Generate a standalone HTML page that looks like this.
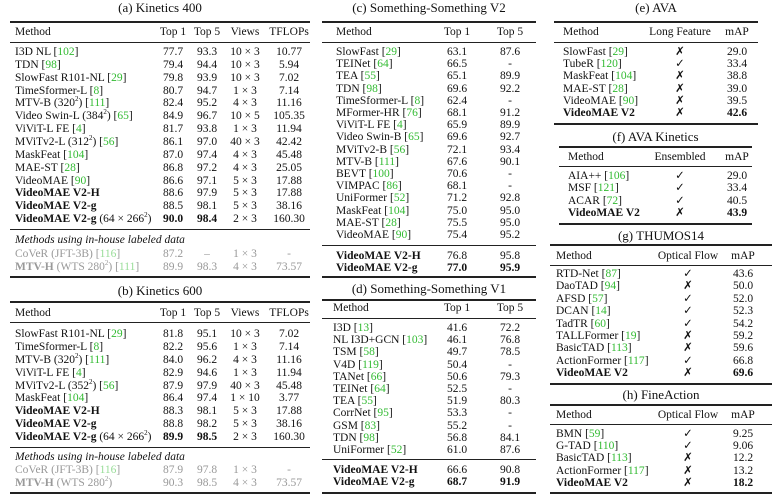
<!DOCTYPE html>
<html><head><meta charset="utf-8"><style>
body{margin:0;width:776px;height:496px;background:#fff;position:relative;overflow:hidden;font-family:"Liberation Serif",serif;font-size:11.5px;color:#111}
.r{position:absolute;height:14px;line-height:14px;white-space:nowrap}
.r span{position:absolute;top:0;text-align:center}
.r span.m{text-align:left}
.l{position:absolute;background:#222}
.t{font-size:13px;text-align:center}
g,.g{color:#3b3}
.gr{color:#999}
.gr g{color:#9d9}
b{font-weight:bold}
sup{font-size:7px;line-height:0}
.A{left:0;width:320px}
.A .m{left:15px}.A .c1{left:158px;width:30px}.A .c2{left:192px;width:30px}.A .c3{left:222px;width:46px}.A .c4{left:268px;width:42px}
.C{left:300px;width:240px}
.C .m{left:36px}.C .c1{left:140px;width:34px}.C .c2{left:193px;width:34px}
.E{left:540px;width:236px}
.E .m{left:23px}.E .c1{left:110px;width:60px}.E .c2{left:180px;width:34px}
.F .m{left:28px}
.G .m{left:16px}.G .c1{left:108px;width:80px}.G .c2{left:186px;width:34px}
.x{display:inline-block}
</style></head><body>
<!-- (a) -->
<div class="r t" style="left:10px;width:300px;top:1px">(a) Kinetics 400</div>
<div class="l" style="left:10px;width:300px;top:21px;height:1.5px"></div>
<div class="r A" style="top:25px"><span class="m">Method</span><span class="c1">Top 1</span><span class="c2">Top 5</span><span class="c3">Views</span><span class="c4">TFLOPs</span></div>
<div class="l" style="left:10px;width:300px;top:42px;height:1px"></div>
<div class="r A" style="top:45px"><span class="m">I3D NL [<g>102</g>]</span><span class="c1">77.7</span><span class="c2">93.3</span><span class="c3">10 × 3</span><span class="c4">10.77</span></div>
<div class="r A" style="top:58px"><span class="m">TDN [<g>98</g>]</span><span class="c1">79.4</span><span class="c2">94.4</span><span class="c3">10 × 3</span><span class="c4">5.94</span></div>
<div class="r A" style="top:71px"><span class="m">SlowFast R101-NL [<g>29</g>]</span><span class="c1">79.8</span><span class="c2">93.9</span><span class="c3">10 × 3</span><span class="c4">7.02</span></div>
<div class="r A" style="top:84px"><span class="m">TimeSformer-L [<g>8</g>]</span><span class="c1">80.7</span><span class="c2">94.7</span><span class="c3">1 × 3</span><span class="c4">7.14</span></div>
<div class="r A" style="top:96px"><span class="m">MTV-B (320<sup>2</sup>) [<g>111</g>]</span><span class="c1">82.4</span><span class="c2">95.2</span><span class="c3">4 × 3</span><span class="c4">11.16</span></div>
<div class="r A" style="top:109px"><span class="m">Video Swin-L (384<sup>2</sup>) [<g>65</g>]</span><span class="c1">84.9</span><span class="c2">96.7</span><span class="c3">10 × 5</span><span class="c4">105.35</span></div>
<div class="r A" style="top:122px"><span class="m">ViViT-L FE [<g>4</g>]</span><span class="c1">81.7</span><span class="c2">93.8</span><span class="c3">1 × 3</span><span class="c4">11.94</span></div>
<div class="r A" style="top:135px"><span class="m">MViTv2-L (312<sup>2</sup>) [<g>56</g>]</span><span class="c1">86.1</span><span class="c2">97.0</span><span class="c3">40 × 3</span><span class="c4">42.42</span></div>
<div class="r A" style="top:148px"><span class="m">MaskFeat [<g>104</g>]</span><span class="c1">87.0</span><span class="c2">97.4</span><span class="c3">4 × 3</span><span class="c4">45.48</span></div>
<div class="r A" style="top:161px"><span class="m">MAE-ST [<g>28</g>]</span><span class="c1">86.8</span><span class="c2">97.2</span><span class="c3">4 × 3</span><span class="c4">25.05</span></div>
<div class="r A" style="top:174px"><span class="m">VideoMAE [<g>90</g>]</span><span class="c1">86.6</span><span class="c2">97.1</span><span class="c3">5 × 3</span><span class="c4">17.88</span></div>
<div class="r A" style="top:186px"><span class="m"><b>VideoMAE V2-H</b></span><span class="c1">88.6</span><span class="c2">97.9</span><span class="c3">5 × 3</span><span class="c4">17.88</span></div>
<div class="r A" style="top:199px"><span class="m"><b>VideoMAE V2-g</b></span><span class="c1">88.5</span><span class="c2">98.1</span><span class="c3">5 × 3</span><span class="c4">38.16</span></div>
<div class="r A" style="top:212px"><span class="m"><b>VideoMAE V2-g</b> (64 × 266<sup>2</sup>)</span><span class="c1"><b>90.0</b></span><span class="c2"><b>98.4</b></span><span class="c3">2 × 3</span><span class="c4">160.30</span></div>
<div class="l" style="left:10px;width:300px;top:229px;height:1px"></div>
<div class="r A" style="top:233px"><span class="m"><i>Methods using in-house labeled data</i></span></div>
<div class="r A gr" style="top:247px"><span class="m">CoVeR (JFT-3B) [<g>116</g>]</span><span class="c1">87.2</span><span class="c2">–</span><span class="c3">1 × 3</span><span class="c4">-</span></div>
<div class="r A gr" style="top:260px"><span class="m"><b>MTV-H</b> (WTS 280<sup>2</sup>) [<g>111</g>]</span><span class="c1">89.9</span><span class="c2">98.3</span><span class="c3">4 × 3</span><span class="c4">73.57</span></div>
<div class="l" style="left:10px;width:300px;top:276px;height:1.5px"></div>
<!-- (b) -->
<div class="r t" style="left:10px;width:300px;top:284px">(b) Kinetics 600</div>
<div class="l" style="left:10px;width:300px;top:301px;height:1.5px"></div>
<div class="r A" style="top:306px"><span class="m">Method</span><span class="c1">Top 1</span><span class="c2">Top 5</span><span class="c3">Views</span><span class="c4">TFLOPs</span></div>
<div class="l" style="left:10px;width:300px;top:322px;height:1px"></div>
<div class="r A" style="top:327px"><span class="m">SlowFast R101-NL [<g>29</g>]</span><span class="c1">81.8</span><span class="c2">95.1</span><span class="c3">10 × 3</span><span class="c4">7.02</span></div>
<div class="r A" style="top:340px"><span class="m">TimeSformer-L [<g>8</g>]</span><span class="c1">82.2</span><span class="c2">95.6</span><span class="c3">1 × 3</span><span class="c4">7.14</span></div>
<div class="r A" style="top:353px"><span class="m">MTV-B (320<sup>2</sup>) [<g>111</g>]</span><span class="c1">84.0</span><span class="c2">96.2</span><span class="c3">4 × 3</span><span class="c4">11.16</span></div>
<div class="r A" style="top:366px"><span class="m">ViViT-L FE [<g>4</g>]</span><span class="c1">82.9</span><span class="c2">94.6</span><span class="c3">1 × 3</span><span class="c4">11.94</span></div>
<div class="r A" style="top:379px"><span class="m">MViTv2-L (352<sup>2</sup>) [<g>56</g>]</span><span class="c1">87.9</span><span class="c2">97.9</span><span class="c3">40 × 3</span><span class="c4">45.48</span></div>
<div class="r A" style="top:391px"><span class="m">MaskFeat [<g>104</g>]</span><span class="c1">86.4</span><span class="c2">97.4</span><span class="c3">1 × 10</span><span class="c4">3.77</span></div>
<div class="r A" style="top:404px"><span class="m"><b>VideoMAE V2-H</b></span><span class="c1">88.3</span><span class="c2">98.1</span><span class="c3">5 × 3</span><span class="c4">17.88</span></div>
<div class="r A" style="top:417px"><span class="m"><b>VideoMAE V2-g</b></span><span class="c1">88.8</span><span class="c2">98.2</span><span class="c3">5 × 3</span><span class="c4">38.16</span></div>
<div class="r A" style="top:430px"><span class="m"><b>VideoMAE V2-g</b> (64 × 266<sup>2</sup>)</span><span class="c1"><b>89.9</b></span><span class="c2"><b>98.5</b></span><span class="c3">2 × 3</span><span class="c4">160.30</span></div>
<div class="l" style="left:10px;width:300px;top:447px;height:1px"></div>
<div class="r A" style="top:450px"><span class="m"><i>Methods using in-house labeled data</i></span></div>
<div class="r A gr" style="top:463px"><span class="m">CoVeR (JFT-3B) [<g>116</g>]</span><span class="c1">87.9</span><span class="c2">97.8</span><span class="c3">1 × 3</span><span class="c4">-</span></div>
<div class="r A gr" style="top:476px"><span class="m"><b>MTV-H</b> (WTS 280<sup>2</sup>)</span><span class="c1">90.3</span><span class="c2">98.5</span><span class="c3">4 × 3</span><span class="c4">73.57</span></div>
<div class="l" style="left:10px;width:300px;top:492px;height:1.5px"></div>
<!-- (c) -->
<div class="r t" style="left:322px;width:214px;top:1px">(c) Something-Something V2</div>
<div class="l" style="left:322px;width:214px;top:21px;height:1.5px"></div>
<div class="r C" style="top:25px"><span class="m">Method</span><span class="c1">Top 1</span><span class="c2">Top 5</span></div>
<div class="l" style="left:322px;width:214px;top:42px;height:1px"></div>
<div class="r C" style="top:45px"><span class="m">SlowFast [<g>29</g>]</span><span class="c1">63.1</span><span class="c2">87.6</span></div>
<div class="r C" style="top:57px"><span class="m">TEINet [<g>64</g>]</span><span class="c1">66.5</span><span class="c2">-</span></div>
<div class="r C" style="top:69px"><span class="m">TEA [<g>55</g>]</span><span class="c1">65.1</span><span class="c2">89.9</span></div>
<div class="r C" style="top:82px"><span class="m">TDN [<g>98</g>]</span><span class="c1">69.6</span><span class="c2">92.2</span></div>
<div class="r C" style="top:94px"><span class="m">TimeSformer-L [<g>8</g>]</span><span class="c1">62.4</span><span class="c2">-</span></div>
<div class="r C" style="top:106px"><span class="m">MFormer-HR [<g>76</g>]</span><span class="c1">68.1</span><span class="c2">91.2</span></div>
<div class="r C" style="top:118px"><span class="m">ViViT-L FE [<g>4</g>]</span><span class="c1">65.9</span><span class="c2">89.9</span></div>
<div class="r C" style="top:130px"><span class="m">Video Swin-B [<g>65</g>]</span><span class="c1">69.6</span><span class="c2">92.7</span></div>
<div class="r C" style="top:143px"><span class="m">MViTv2-B [<g>56</g>]</span><span class="c1">72.1</span><span class="c2">93.4</span></div>
<div class="r C" style="top:155px"><span class="m">MTV-B [<g>111</g>]</span><span class="c1">67.6</span><span class="c2">90.1</span></div>
<div class="r C" style="top:167px"><span class="m">BEVT [<g>100</g>]</span><span class="c1">70.6</span><span class="c2">-</span></div>
<div class="r C" style="top:179px"><span class="m">VIMPAC [<g>86</g>]</span><span class="c1">68.1</span><span class="c2">-</span></div>
<div class="r C" style="top:191px"><span class="m">UniFormer [<g>52</g>]</span><span class="c1">71.2</span><span class="c2">92.8</span></div>
<div class="r C" style="top:204px"><span class="m">MaskFeat [<g>104</g>]</span><span class="c1">75.0</span><span class="c2">95.0</span></div>
<div class="r C" style="top:216px"><span class="m">MAE-ST [<g>28</g>]</span><span class="c1">75.5</span><span class="c2">95.0</span></div>
<div class="r C" style="top:228px"><span class="m">VideoMAE [<g>90</g>]</span><span class="c1">75.4</span><span class="c2">95.2</span></div>
<div class="l" style="left:322px;width:214px;top:245px;height:1px"></div>
<div class="r C" style="top:249px"><span class="m"><b>VideoMAE V2-H</b></span><span class="c1">76.8</span><span class="c2">95.8</span></div>
<div class="r C" style="top:261px"><span class="m"><b>VideoMAE V2-g</b></span><span class="c1"><b>77.0</b></span><span class="c2"><b>95.9</b></span></div>
<div class="l" style="left:322px;width:214px;top:276px;height:1.5px"></div>
<!-- (d) -->
<div class="r t" style="left:322px;width:214px;top:282px">(d) Something-Something V1</div>
<div class="l" style="left:322px;width:214px;top:299px;height:1.5px"></div>
<div class="r C" style="top:301px"><span class="m" style="left:33px">Method</span><span class="c1">Top 1</span><span class="c2">Top 5</span></div>
<div class="l" style="left:322px;width:214px;top:318px;height:1px"></div>
<div class="r C" style="top:321px"><span class="m" style="left:33px">I3D [<g>13</g>]</span><span class="c1">41.6</span><span class="c2">72.2</span></div>
<div class="r C" style="top:333px"><span class="m" style="left:33px">NL I3D+GCN [<g>103</g>]</span><span class="c1">46.1</span><span class="c2">76.8</span></div>
<div class="r C" style="top:345px"><span class="m" style="left:33px">TSM [<g>58</g>]</span><span class="c1">49.7</span><span class="c2">78.5</span></div>
<div class="r C" style="top:358px"><span class="m" style="left:33px">V4D [<g>119</g>]</span><span class="c1">50.4</span><span class="c2">-</span></div>
<div class="r C" style="top:370px"><span class="m" style="left:33px">TANet [<g>66</g>]</span><span class="c1">50.6</span><span class="c2">79.3</span></div>
<div class="r C" style="top:382px"><span class="m" style="left:33px">TEINet [<g>64</g>]</span><span class="c1">52.5</span><span class="c2">-</span></div>
<div class="r C" style="top:394px"><span class="m" style="left:33px">TEA [<g>55</g>]</span><span class="c1">51.9</span><span class="c2">80.3</span></div>
<div class="r C" style="top:406px"><span class="m" style="left:33px">CorrNet [<g>95</g>]</span><span class="c1">53.3</span><span class="c2">-</span></div>
<div class="r C" style="top:419px"><span class="m" style="left:33px">GSM [<g>83</g>]</span><span class="c1">55.2</span><span class="c2">-</span></div>
<div class="r C" style="top:431px"><span class="m" style="left:33px">TDN [<g>98</g>]</span><span class="c1">56.8</span><span class="c2">84.1</span></div>
<div class="r C" style="top:443px"><span class="m" style="left:33px">UniFormer [<g>52</g>]</span><span class="c1">61.0</span><span class="c2">87.6</span></div>
<div class="l" style="left:322px;width:214px;top:459px;height:1px"></div>
<div class="r C" style="top:463px"><span class="m" style="left:33px"><b>VideoMAE V2-H</b></span><span class="c1">66.6</span><span class="c2">90.8</span></div>
<div class="r C" style="top:475px"><span class="m" style="left:33px"><b>VideoMAE V2-g</b></span><span class="c1"><b>68.7</b></span><span class="c2"><b>91.9</b></span></div>
<div class="l" style="left:322px;width:214px;top:492px;height:1.5px"></div>
<!-- (e) -->
<div class="r t" style="left:554px;width:204px;top:1px">(e) AVA</div>
<div class="l" style="left:554px;width:204px;top:21px;height:1.5px"></div>
<div class="r E" style="top:25px"><span class="m">Method</span><span class="c1" style="left:105px;width:70px">Long Feature</span><span class="c2">mAP</span></div>
<div class="l" style="left:554px;width:204px;top:42px;height:1px"></div>
<div class="r E" style="top:45px"><span class="m">SlowFast [<g>29</g>]</span><span class="c1">✗</span><span class="c2">29.0</span></div>
<div class="r E" style="top:57px"><span class="m">TubeR [<g>120</g>]</span><span class="c1">✓</span><span class="c2">33.4</span></div>
<div class="r E" style="top:69px"><span class="m">MaskFeat [<g>104</g>]</span><span class="c1">✗</span><span class="c2">38.8</span></div>
<div class="r E" style="top:82px"><span class="m">MAE-ST [<g>28</g>]</span><span class="c1">✗</span><span class="c2">39.0</span></div>
<div class="r E" style="top:94px"><span class="m">VideoMAE [<g>90</g>]</span><span class="c1">✗</span><span class="c2">39.5</span></div>
<div class="r E" style="top:106px"><span class="m"><b>VideoMAE V2</b></span><span class="c1">✗</span><span class="c2"><b>42.6</b></span></div>
<div class="l" style="left:554px;width:204px;top:123px;height:1.5px"></div>
<!-- (f) -->
<div class="r t" style="left:559px;width:193px;top:130px">(f) AVA Kinetics</div>
<div class="l" style="left:559px;width:193px;top:146px;height:1.5px"></div>
<div class="r E F" style="top:150px"><span class="m">Method</span><span class="c1">Ensembled</span><span class="c2">mAP</span></div>
<div class="l" style="left:559px;width:193px;top:166px;height:1px"></div>
<div class="r E F" style="top:169px"><span class="m">AIA++ [<g>106</g>]</span><span class="c1">✓</span><span class="c2">29.0</span></div>
<div class="r E F" style="top:181px"><span class="m">MSF [<g>121</g>]</span><span class="c1">✓</span><span class="c2">33.4</span></div>
<div class="r E F" style="top:194px"><span class="m">ACAR [<g>72</g>]</span><span class="c1">✓</span><span class="c2">40.5</span></div>
<div class="r E F" style="top:206px"><span class="m"><b>VideoMAE V2</b></span><span class="c1">✗</span><span class="c2"><b>43.9</b></span></div>
<div class="l" style="left:559px;width:193px;top:223px;height:1.5px"></div>
<!-- (g) -->
<div class="r t" style="left:550px;width:222px;top:229px">(g) THUMOS14</div>
<div class="l" style="left:550px;width:222px;top:244px;height:1.5px"></div>
<div class="r E G" style="top:249px"><span class="m">Method</span><span class="c1">Optical Flow</span><span class="c2">mAP</span></div>
<div class="l" style="left:550px;width:222px;top:265px;height:1px"></div>
<div class="r E G" style="top:267px"><span class="m">RTD-Net [<g>87</g>]</span><span class="c1">✓</span><span class="c2">43.6</span></div>
<div class="r E G" style="top:279px"><span class="m">DaoTAD [<g>94</g>]</span><span class="c1">✗</span><span class="c2">50.0</span></div>
<div class="r E G" style="top:292px"><span class="m">AFSD [<g>57</g>]</span><span class="c1">✓</span><span class="c2">52.0</span></div>
<div class="r E G" style="top:304px"><span class="m">DCAN [<g>14</g>]</span><span class="c1">✓</span><span class="c2">52.3</span></div>
<div class="r E G" style="top:317px"><span class="m">TadTR [<g>60</g>]</span><span class="c1">✓</span><span class="c2">54.2</span></div>
<div class="r E G" style="top:329px"><span class="m">TALLFormer [<g>19</g>]</span><span class="c1">✗</span><span class="c2">59.2</span></div>
<div class="r E G" style="top:341px"><span class="m">BasicTAD [<g>113</g>]</span><span class="c1">✗</span><span class="c2">59.6</span></div>
<div class="r E G" style="top:354px"><span class="m">ActionFormer [<g>117</g>]</span><span class="c1">✓</span><span class="c2">66.8</span></div>
<div class="r E G" style="top:366px"><span class="m"><b>VideoMAE V2</b></span><span class="c1">✗</span><span class="c2"><b>69.6</b></span></div>
<div class="l" style="left:550px;width:222px;top:383px;height:1.5px"></div>
<!-- (h) -->
<div class="r t" style="left:550px;width:222px;top:388px">(h) FineAction</div>
<div class="l" style="left:550px;width:222px;top:404px;height:1.5px"></div>
<div class="r E G" style="top:408px"><span class="m">Method</span><span class="c1">Optical Flow</span><span class="c2">mAP</span></div>
<div class="l" style="left:550px;width:222px;top:424px;height:1px"></div>
<div class="r E G" style="top:427px"><span class="m">BMN [<g>59</g>]</span><span class="c1">✓</span><span class="c2">9.25</span></div>
<div class="r E G" style="top:439px"><span class="m">G-TAD [<g>110</g>]</span><span class="c1">✓</span><span class="c2">9.06</span></div>
<div class="r E G" style="top:451px"><span class="m">BasicTAD [<g>113</g>]</span><span class="c1">✗</span><span class="c2">12.2</span></div>
<div class="r E G" style="top:464px"><span class="m">ActionFormer [<g>117</g>]</span><span class="c1">✗</span><span class="c2">13.2</span></div>
<div class="r E G" style="top:476px"><span class="m"><b>VideoMAE V2</b></span><span class="c1">✗</span><span class="c2"><b>18.2</b></span></div>
<div class="l" style="left:550px;width:222px;top:492px;height:1.5px"></div>
</body></html>
